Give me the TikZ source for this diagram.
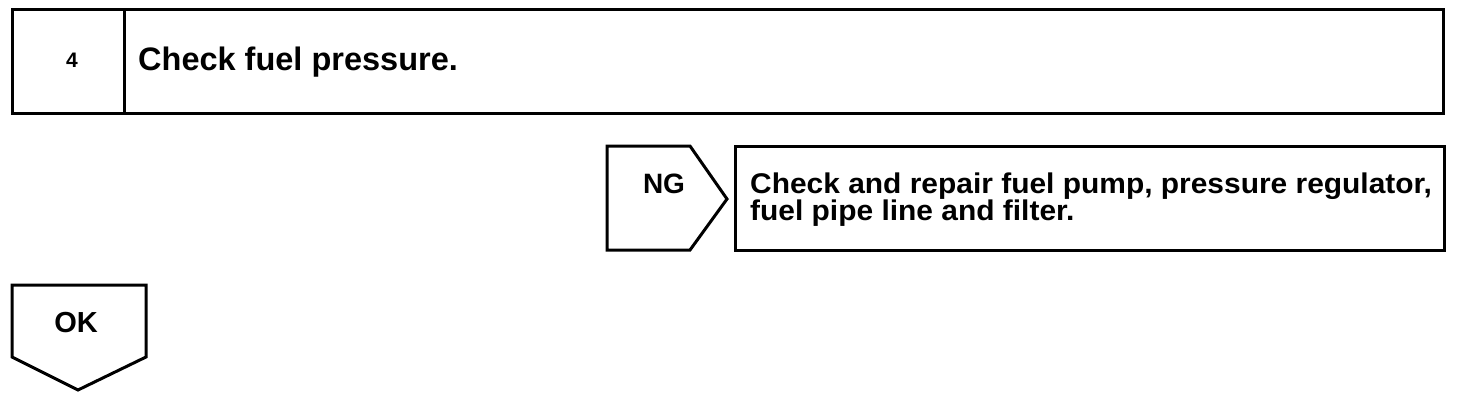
\documentclass[tikz,border=0pt]{standalone}
\usepackage{fontspec}
\setmainfont{Liberation Sans}[BoldFont={* Bold}]
\begin{document}
\begin{tikzpicture}[x=1pt,y=-1pt,
  frame/.style={draw=black,line width=3pt,line join=miter},
  lbl/.style={inner sep=0pt,anchor=base}]
\useasboundingbox (0,0) rectangle (1472,400);
% top step box
\draw[frame] (12,9) rectangle (1443,113);
\draw[frame] (124,9) -- (124,113);
\node[lbl,font=\fontsize{21}{21}\selectfont\bfseries] (num) at (72,67) {4};
\node[lbl,anchor=base west,font=\fontsize{32.5}{32}\selectfont\bfseries] (title) at (138,70) {Check fuel pressure.};
% NG tab
\draw[frame] (607,146) -- (690,146) -- (727,199) -- (690,250) -- (607,250) -- cycle;
\node[lbl,font=\fontsize{28}{28}\selectfont\bfseries] (ng) at (664,193) {NG};
% action box
\draw[frame] (735,146) rectangle (1444,250);
\node[lbl,anchor=base west,font=\fontsize{28.5}{28}\selectfont\bfseries] (act1) at (750,193)
  {\scalebox{1.05}[1]{Check and repair fuel pump, pressure regulator,}};
\node[lbl,anchor=base west,font=\fontsize{28.5}{28}\selectfont\bfseries] (act2) at (750,220)
  {\scalebox{1.05}[1]{fuel pipe line and filter.}};
% OK tab
\draw[frame] (12,285) -- (146,285) -- (146,357) -- (78,390) -- (12,357) -- cycle;
\node[lbl,font=\fontsize{29}{29}\selectfont\bfseries] (ok) at (76,332) {OK};
\end{tikzpicture}
\end{document}
